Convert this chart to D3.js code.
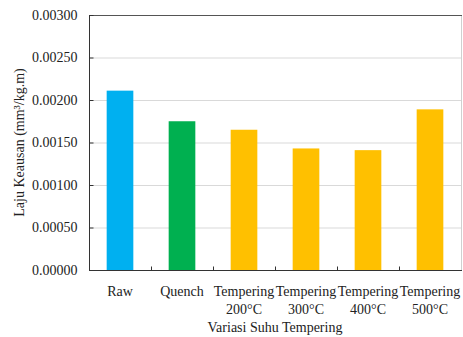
<!DOCTYPE html>
<html><head><meta charset="utf-8">
<script src="https://cdn.jsdelivr.net/npm/d3@7"></script>
<style>html,body{margin:0;padding:0;background:#fff;}</style>
</head><body><svg id="c" width="463" height="337"></svg>
<script>
const categories = [["Raw"],["Quench"],["Tempering","200°C"],["Tempering","300°C"],["Tempering","400°C"],["Tempering","500°C"]];
const values = [0.00211, 0.00175, 0.00165, 0.00143, 0.00141, 0.00189];
const barColors = ["#00b0f0","#00b050","#ffc000","#ffc000","#ffc000","#ffc000"];
const yTicks = [0, 0.0005, 0.001, 0.0015, 0.002, 0.0025, 0.003];
const xTitle = "Variasi Suhu Tempering";
const yTitle = "Laju Keausan (mm³/kg.m)";

const svg = d3.select("#c");
const L = 89, R = 461, T = 15, B = 270;
const font = "'Liberation Serif','Times New Roman',serif";
const x = d3.scaleBand().domain(d3.range(categories.length)).range([L, R]).paddingInner(0.57).paddingOuter(0.285);
const xb = d3.scaleBand().domain(d3.range(categories.length)).range([L, R]);
const y = d3.scaleLinear().domain([0, 0.003]).range([B, T]);

// gridlines
svg.append("g").selectAll("line").data(yTicks.slice(1)).join("line")
  .attr("x1", L).attr("x2", R).attr("y1", d => y(d)+0.5).attr("y2", d => y(d)+0.5)
  .attr("stroke", "#d9d9d9").attr("stroke-width", 1);
// right border
svg.append("line").attr("x1", R+0.5).attr("x2", R+0.5).attr("y1", T).attr("y2", B)
  .attr("stroke", "#d0d0d0");
// top border
svg.append("line").attr("x1", L).attr("x2", R+1).attr("y1", T+0.5).attr("y2", T+0.5)
  .attr("stroke", "#555").attr("stroke-width", 1);

// bars
svg.append("g").selectAll("rect").data(values).join("rect")
  .attr("x", (d,i) => x(i)).attr("width", x.bandwidth())
  .attr("y", d => y(d)).attr("height", d => B - y(d))
  .attr("fill", (d,i) => barColors[i]);

// y axis
const yAxis = svg.append("g").attr("transform", `translate(${L+0.5},0)`)
  .call(d3.axisLeft(y).tickValues(yTicks).tickFormat(d3.format(".5f")).tickSize(-4).tickPadding(12));
yAxis.select(".domain").attr("stroke", "#333").attr("d", `M0,${T}V${B+0.5}`);
yAxis.selectAll(".tick line").attr("stroke", "#333");
yAxis.selectAll("text").attr("font-family", font).attr("font-size", 14).attr("fill", "#222");

// x axis
const xAxisG = svg.append("g").attr("transform", `translate(0,${B+0.5})`);
xAxisG.append("line").attr("x1", L).attr("x2", R+1).attr("stroke", "#333");
xAxisG.selectAll("line.tk").data(d3.range(1, categories.length)).join("line").attr("class","tk")
  .attr("x1", i => Math.round(xb(i))+0.5).attr("x2", i => Math.round(xb(i))+0.5).attr("y1", 0).attr("y2", -4)
  .attr("stroke", "#333");
const lbl = xAxisG.selectAll("text").data(categories).join("text")
  .attr("x", (d,i) => xb(i) + xb.bandwidth()/2).attr("y", 25)
  .attr("text-anchor", "middle").attr("font-family", font).attr("font-size", 14).attr("fill", "#222");
lbl.selectAll("tspan").data(d => d).join("tspan")
  .attr("x", function(){ return this.parentNode.getAttribute("x"); })
  .attr("dy", (d,i) => i === 0 ? 0 : 18).text(d => d);

// titles
svg.append("text").attr("x", (L+R)/2).attr("y", 332).attr("text-anchor", "middle")
  .attr("font-family", font).attr("font-size", 14).attr("fill", "#222").text(xTitle);
svg.append("text").attr("transform", `translate(24,${(T+B)/2}) rotate(-90)`).attr("text-anchor", "middle")
  .attr("font-family", font).attr("font-size", 14).attr("fill", "#222").text(yTitle);
</script></body></html>
